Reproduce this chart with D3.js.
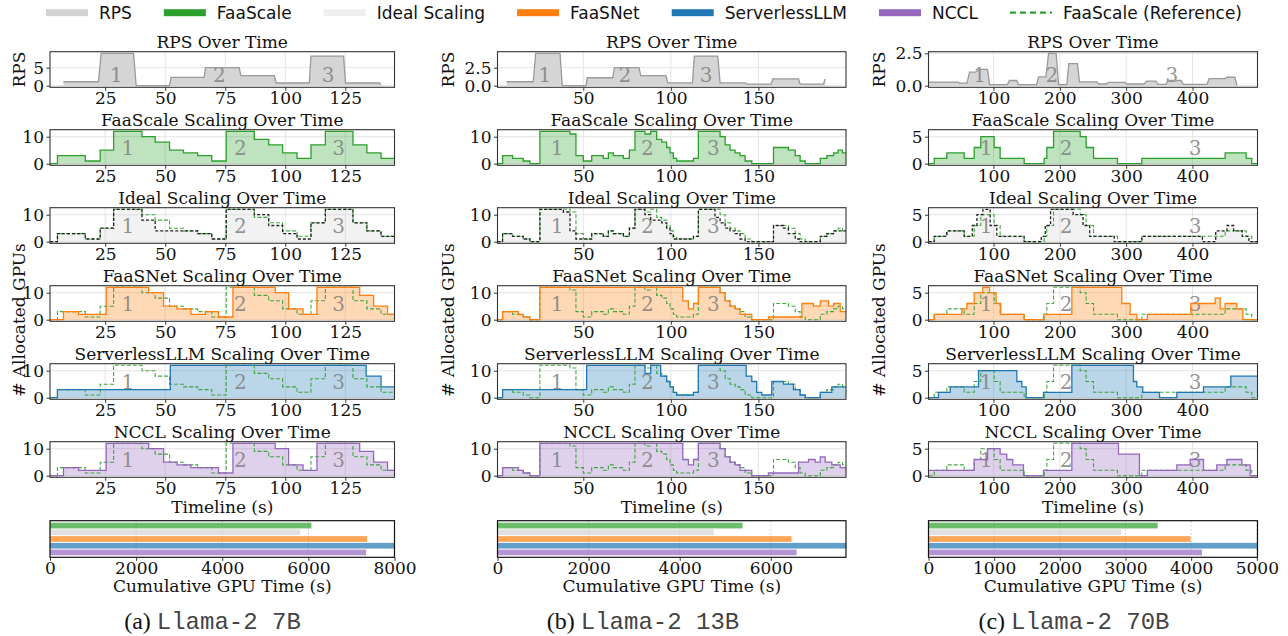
<!DOCTYPE html>
<html>
<head>
<meta charset="utf-8">
<script src="https://cdn.jsdelivr.net/npm/d3@7"></script>
<style>
  body { margin: 0; background: #fff; }
  svg text { font-family: "DejaVu Serif", serif; fill: #111; }
</style>
</head>
<body>
<svg id="chart" width="1288" height="636"></svg>
<script>
// ---- données ----
const legendNames = ["RPS", "FaaScale", "Ideal Scaling", "FaaSNet", "ServerlessLLM", "NCCL", "FaaScale (Reference)"];
const barNames = ["FaaScale", "Ideal Scaling", "FaaSNet", "ServerlessLLM", "NCCL"];
const panelTitles = ["RPS Over Time", "FaaScale Scaling Over Time", "Ideal Scaling Over Time",
                     "FaaSNet Scaling Over Time", "ServerlessLLM Scaling Over Time", "NCCL Scaling Over Time"];
const captionTags = ["(a) ", "(b) ", "(c) "];
const modelNames = ["Llama-2 7B", "Llama-2 13B", "Llama-2 70B"];
const burstLabels = ["1", "2", "3"];

// (a) Llama-2 7B : [temps (s), valeur]
const rpsA = [[7.6,1.1],[22.2,1.1],[23.3,9.0],[36.8,9.0],[37.9,0],[51.8,0],[52.4,2.3],[66.2,2.3],[66.8,5.0],[80.8,5.0],
  [81.5,2.8],[95.4,2.8],[96.2,0.75],[110,0.75],[110.7,8.2],[124.3,8.2],[125.1,0.75],[139.2,0.75],[139.9,0.3]];
const faascaleA = [[2,0],[5.1,3],[16.7,1],[22.9,5],[28.5,12],[40.3,10],[45.8,8],[51.8,5],[57.6,4],[63.5,3],[69.4,1],
  [75.4,12],[87.1,9],[93.1,7],[98.9,4],[104.9,2],[110.7,7],[116.7,12],[128.2,7],[134,4],[139.9,2],[145.5,2]];
const idealA = [[2,0],[5.1,3],[16.7,1],[22.9,5],[28.5,12],[40.3,8],[45.8,4],[63.5,3],[69.4,1],[75.4,12],[87.1,10],
  [93.1,6],[98.9,3],[104.9,1],[110.7,7],[116.7,12],[128.2,7],[134,4],[139.9,2],[145.5,2]];
const faasnetA = [[2,0],[7.6,3],[13.9,2],[25.4,12],[43.1,10],[49.3,5],[54.9,4],[60.7,2],[66.7,3],[72.2,1],[78.2,12],
  [95.8,10],[101.4,4],[107.4,2],[113.2,12],[131,9],[136.8,5],[142.6,2],[145.5,2]];
const serverlessA = [[2,0],[5.1,3],[52.1,12],[133.7,8],[139.9,4],[145.5,4]];
const ncclA = [[2,0],[7.6,3],[13.9,2],[25.4,12],[43.1,10],[49.3,5],[54.9,4],[60.7,3],[72.2,1],[78.2,12],[95.8,10],
  [101.4,4],[107.4,2],[113.2,12],[131,9],[136.8,5],[142.6,2],[145.5,2]];
const barA = [6070, 5810, 7365, 8000, 7340];

// (b) Llama-2 13B
const rpsB = [[6.2,0.55],[21.4,0.55],[22.8,4.5],[36.7,4.5],[38,0],[51.5,0],[52.3,1.1],[66.8,1.1],[67.7,2.5],[81.8,2.5],
  [82.8,1.4],[97.2,1.4],[98.2,0.38],[112.3,0.38],[113.4,4.1],[126.8,4.1],[128.1,0.38],[142.4,0.38],[143.3,0.22],
  [157.2,0.22],[158.2,0.94],[172.9,0.94],[173.8,0.22],[187.1,0.22],[188.1,0.94]];
const faascaleB = [[1,0],[3.9,3],[9.6,2],[15.7,1],[19.5,0],[25.2,12],[42.4,11],[45.8,3],[50,1],[54.8,3],[61.4,2],
  [64.3,4],[67.1,3],[72.9,2],[76.3,5],[79.5,12],[85.2,11],[88.5,12],[91.9,9],[94.8,8],[97.6,6],[99.5,4],[101.4,2],
  [103.3,1],[112.9,2],[115.7,12],[128.1,10],[131,7],[133.8,5],[136.7,4],[139.5,3],[142.4,1],[146.2,0],[158.6,6],
  [167.1,5],[171,3],[173.8,1],[176.7,0],[185.3,2],[189.1,3],[192.9,4],[195.5,5],[198,4],[200,4]];
const idealB = [[1,0],[3.9,3],[9.6,2],[15.7,1],[19.5,0],[25.2,12],[38.6,11],[42.4,4],[45.8,1],[54.8,3],[61.4,2],
  [64.3,4],[67.1,3],[72.9,2],[76.3,5],[79.5,12],[85.2,10],[88.5,8],[94.8,7],[97.6,5],[99.5,3],[101.4,1],[112.9,2],
  [115.7,12],[125.2,9],[128.1,7],[131,5],[133.8,4],[136.7,3],[139.5,1],[142.4,0],[158.6,6],[164.3,5],[167.1,3],
  [171,1],[173.8,0],[185.3,2],[189.1,3],[192.9,4],[196.7,4],[200,3]];
const faasnetB = [[1,0],[3.9,3],[12.9,2],[15.7,1],[19.5,0],[25.2,12],[106.8,7],[110,4],[112.9,6],[115.7,12],[128.1,10],
  [131,7],[133.8,5],[136.7,4],[139.5,2],[146.2,0],[155.7,1],[174.8,6],[181.4,5],[185.3,7],[190,5],[192.9,6],
  [196.7,3],[200,3]];
const serverlessB = [[1,0],[3.9,3],[51.9,12],[85.2,9],[88.5,12],[94.2,8],[97.6,6],[99.5,4],[101.4,2],[103.3,1],
  [112.9,2],[115.7,12],[143,8],[146.2,6],[149,2],[151.9,1],[157.6,6],[164.3,5],[170,3],[173.8,1],[176.7,0],
  [185.3,2],[191.9,4],[200,4]];
const ncclB = [[1,0],[3.9,3],[12.9,2],[15.7,1],[19.5,0],[25.2,12],[106.8,6],[110,4],[112.9,6],[115.7,12],[128.1,10],
  [131,7],[133.8,5],[136.7,4],[139.5,2],[146.2,0],[155.7,1],[172.9,5],[178.6,6],[182.4,5],[185.3,7],[188.1,5],
  [191.9,4],[196.7,3],[200,3]];
const barB = [5380, 4750, 6455, 7650, 6565];

// (c) Llama-2 70B
const rpsC = [[2,0.28],[47,0.28],[48.5,0.2],[60,0.2],[63.8,1.05],[73,1.05],[79,1.26],[91,1.26],[94,0.08],[121,0.08],
  [124,0.4],[135,0.4],[137.7,0.08],[165,0.08],[168,0.68],[179,0.68],[183,2.5],[194.5,2.5],[198,0.08],[210.5,0.08],
  [213.6,1.7],[226.6,1.7],[229.6,0.3],[255.8,0.3],[258.8,0.13],[270,0.13],[273,0.25],[298.5,0.25],[301,0.13],
  [327,0.13],[331,0.35],[345,0.35],[348,0.1],[360,0.1],[363,0.4],[383,0.4],[386,0.1],[422,0.1],[425,0.55],
  [449,0.55],[452,0.65],[464,0.65],[467,0]];
const faascaleC = [[2,0],[10.6,1],[29.6,2],[55.8,1],[70.9,3],[80.9,5],[101,3],[110,1],[146.2,0],[176.4,1],[180.4,3],
  [190.5,6],[230.7,5],[239.7,3],[250.8,1],[286.9,0],[323.6,1],[449.2,2],[480.9,1],[489.4,0],[498,0]];
const idealC = [[2,0],[10.6,1],[29.6,2],[55.8,1],[68,3],[75,5],[84,6],[95,3],[105,1],[146.2,0],[172,1],[178,3],
  [186,6],[220,5],[235,3],[245,1],[282,0],[323.6,1],[415,0],[435,2],[452,3],[462,2],[475,1],[485,0],[498,0]];
const faasnetC = [[2,0],[10.6,1],[52.3,2],[59.8,3],[70.9,5],[83.9,6],[94,5],[104,3],[111,1],[146.2,0],[175.4,1],
  [218.1,6],[293.5,3],[306,1],[316,0],[332,1],[397.5,3],[434.2,4],[441.7,2],[449.2,3],[466.8,2],[475.9,0],[498,0]];
const serverlessC = [[2,0],[17,1],[34.7,2],[77.4,5],[135.2,3],[142.7,2],[149.2,0],[175.4,1],[218.1,6],[311,3],
  [316,2],[325,1],[350.3,0],[376.4,1],[416.6,2],[457.8,4],[498,4]];
const ncclC = [[2,1],[70.9,3],[91,5],[110,4],[120,3],[129,2],[145.2,0],[175.4,1],[218.1,6],[288.4,4],[320,0],
  [332,1],[376.4,2],[396.5,3],[416.6,1],[436.7,2],[451.8,3],[474.4,2],[487,0],[498,0]];
const barC = [3490, 2935, 3990, 5010, 4165];

// graduations
const xTicksA = [25, 50, 75, 100, 125], xTicksB = [50, 100, 150], xTicksC = [100, 200, 300, 400];
const rpsTicksA = [0, 5], rpsTicksB = [0, 2.5], rpsTicksC = [0, 2.5];
const gpuTicksA = [0, 10], gpuTicksB = [0, 10], gpuTicksC = [0, 5];
const barTicksA = [0, 2000, 4000, 6000, 8000], barTicksB = [0, 2000, 4000, 6000], barTicksC = [0, 1000, 2000, 3000, 4000, 5000];

// positions des étiquettes 1/2/3 (en secondes)
const rpsLabelA = [29.6, 72.6, 117.8], gpuLabelA = [34.4, 81.3, 122.2];
const rpsLabelB = [28.1, 73.8, 120.1], gpuLabelB = [35.1, 86.6, 124.3];
const rpsLabelC = [78.9, 188, 368.8], gpuLabelC = [89, 209.5, 404];

// ---- mise en page ----
const COLORS = {
  rps: "#d3d3d3", faascale: "#2ca02c", ideal: "#d3d3d3", faasnet: "#ff7f0e", serverless: "#1f77b4", nccl: "#9467bd"
};
const colLeft = [50, 497.5, 928.5];
const colRight = [394.5, 846, 1257.5];
const yLabelX = [19, 448, 879];
const captionX = [212.5, 643, 1074];
const panelTop0 = 51.7, panelPitch = 78, panelH = 35.6;
const barTop = 520.7, barBottom = 557.3;

const columns = [
  { rps: rpsA, faascale: faascaleA, ideal: idealA, faasnet: faasnetA, serverless: serverlessA, nccl: ncclA, bars: barA,
    xTicks: xTicksA, rpsTicks: rpsTicksA, gpuTicks: gpuTicksA, barTicks: barTicksA,
    rpsLabels: rpsLabelA, gpuLabels: gpuLabelA, rpsFmt: d3.format("d") },
  { rps: rpsB, faascale: faascaleB, ideal: idealB, faasnet: faasnetB, serverless: serverlessB, nccl: ncclB, bars: barB,
    xTicks: xTicksB, rpsTicks: rpsTicksB, gpuTicks: gpuTicksB, barTicks: barTicksB,
    rpsLabels: rpsLabelB, gpuLabels: gpuLabelB, rpsFmt: d3.format(".1f") },
  { rps: rpsC, faascale: faascaleC, ideal: idealC, faasnet: faasnetC, serverless: serverlessC, nccl: ncclC, bars: barC,
    xTicks: xTicksC, rpsTicks: rpsTicksC, gpuTicks: gpuTicksC, barTicks: barTicksC,
    rpsLabels: rpsLabelC, gpuLabels: gpuLabelC, rpsFmt: d3.format(".1f") }
];

const svg = d3.select("#chart");
svg.append("rect").attr("width", 1288).attr("height", 636).attr("fill", "#fff");
const defs = svg.append("defs");

function styleAxis(g) {
  g.select(".domain").remove();
  g.selectAll(".tick line").attr("stroke", "#333").attr("stroke-width", 1);
  g.selectAll(".tick text").attr("font-size", "17px").attr("font-family", "DejaVu Serif").attr("fill", "#111");
}

let clipId = 0;

columns.forEach((col, ci) => {
  const x0 = colLeft[ci], x1 = colRight[ci];
  const gpuSeries = [col.faascale, col.ideal, col.faasnet, col.serverless, col.nccl];
  const x = d3.scaleLinear()
    .domain(d3.extent(gpuSeries.flat(), d => d[0]))
    .range([x0, x1]);
  const gpuMax = d3.max(gpuSeries.flat(), d => d[1]);
  const rpsMax = d3.max(col.rps, d => d[1]);

  const panels = [
    { data: col.rps, curve: d3.curveLinear, fill: COLORS.rps, fillOp: 0.95, stroke: "#9a9a9a", dash: null,
      max: rpsMax, ticks: col.rpsTicks, fmt: col.rpsFmt, labels: col.rpsLabels, labelFrac: 0.66, ref: false },
    { data: col.faascale, fill: COLORS.faascale, fillOp: 0.3, stroke: COLORS.faascale, dash: null, ref: false },
    { data: col.ideal, fill: COLORS.ideal, fillOp: 0.3, stroke: "#222", dash: "3,2", ref: true },
    { data: col.faasnet, fill: COLORS.faasnet, fillOp: 0.3, stroke: COLORS.faasnet, dash: null, ref: true },
    { data: col.serverless, fill: COLORS.serverless, fillOp: 0.3, stroke: COLORS.serverless, dash: null, ref: true },
    { data: col.nccl, fill: COLORS.nccl, fillOp: 0.3, stroke: COLORS.nccl, dash: null, ref: true }
  ];

  panels.forEach((p, pi) => {
    const top = panelTop0 + pi * panelPitch, bottom = top + panelH;
    const maxV = p.max !== undefined ? p.max : gpuMax;
    const y = d3.scaleLinear().domain([-0.05 * maxV, 1.05 * maxV]).range([bottom, top]);
    const curve = p.curve || d3.curveStepAfter;
    const g = svg.append("g");

    const cid = "clip" + (clipId++);
    defs.append("clipPath").attr("id", cid).append("rect")
      .attr("x", x0).attr("y", top).attr("width", x1 - x0).attr("height", panelH);

    // grille
    g.selectAll(".gx").data(col.xTicks).enter().append("line")
      .attr("x1", d => x(d)).attr("x2", d => x(d)).attr("y1", top).attr("y2", bottom)
      .attr("stroke", "#e5e5e5").attr("stroke-width", 1);
    const yTicks = p.ticks || col.gpuTicks;
    g.selectAll(".gy").data(yTicks).enter().append("line")
      .attr("x1", x0).attr("x2", x1).attr("y1", d => y(d)).attr("y2", d => y(d))
      .attr("stroke", "#e5e5e5").attr("stroke-width", 1);

    const plot = g.append("g").attr("clip-path", `url(#${cid})`);
    const area = d3.area().curve(curve).x(d => x(d[0])).y0(y(0)).y1(d => y(d[1]));
    const line = d3.line().curve(curve).x(d => x(d[0])).y(d => y(d[1]));

    plot.append("path").datum(p.data).attr("d", area)
      .attr("fill", p.fill).attr("fill-opacity", p.fillOp);

    // labels 1/2/3
    const lab = p.labels || col.gpuLabels;
    const frac = p.labelFrac || 0.5;
    plot.selectAll(".lab").data(lab).enter().append("text")
      .attr("x", d => x(d)).attr("y", top + panelH * frac + 7)
      .attr("text-anchor", "middle").attr("font-size", "20px")
      .style("fill", "#808080").attr("fill-opacity", 0.85)
      .text((d, i) => burstLabels[i]);

    if (p.ref) {
      plot.append("path").datum(col.faascale).attr("d", line)
        .attr("fill", "none").attr("stroke", COLORS.faascale).attr("stroke-width", 1.1)
        .attr("stroke-dasharray", "4,2").attr("stroke-opacity", 0.9);
    }
    plot.append("path").datum(p.data).attr("d", line)
      .attr("fill", "none").attr("stroke", p.stroke).attr("stroke-width", 1.3)
      .attr("stroke-dasharray", p.dash);

    // cadre
    g.append("rect").attr("x", x0).attr("y", top).attr("width", x1 - x0).attr("height", panelH)
      .attr("fill", "none").attr("stroke", "#333").attr("stroke-width", 1.1);

    // axes
    g.append("g").attr("transform", `translate(0,${bottom})`)
      .call(d3.axisBottom(x).tickValues(col.xTicks).tickSize(3.5).tickPadding(1.5).tickFormat(d3.format("d")))
      .call(styleAxis);
    g.append("g").attr("transform", `translate(${x0},0)`)
      .call(d3.axisLeft(y).tickValues(yTicks).tickSize(3.5).tickPadding(2.5).tickFormat(p.fmt || d3.format("d")))
      .call(styleAxis);

    // titre
    g.append("text").attr("x", (x0 + x1) / 2).attr("y", top - 4)
      .attr("text-anchor", "middle").attr("font-size", "17px").text(panelTitles[pi]);
  });

  // titres d'axes Y
  svg.append("text")
    .attr("transform", `translate(${yLabelX[ci] + 6},${panelTop0 + panelH / 2}) rotate(-90)`)
    .attr("text-anchor", "middle").attr("font-size", "17px").text("RPS");
  svg.append("text")
    .attr("transform", `translate(${yLabelX[ci] + 6},320) rotate(-90)`)
    .attr("text-anchor", "middle").attr("font-size", "17px").text("# Allocated GPUs");

  svg.append("text").attr("x", (x0 + x1) / 2).attr("y", 513)
    .attr("text-anchor", "middle").attr("font-size", "17px").text("Timeline (s)");

  // barres GPU cumulées
  const bx = d3.scaleLinear().domain([0, d3.max(col.bars)]).range([x0, x1]);
  const by = d3.scaleBand().domain(barNames).range([barTop, barBottom]).paddingInner(0.15).paddingOuter(0.3);
  const barColors = [COLORS.faascale, COLORS.rps, COLORS.faasnet, COLORS.serverless, COLORS.nccl];
  const bg = svg.append("g");
  bg.selectAll(".bgrid").data(col.barTicks).enter().append("line")
    .attr("x1", d => bx(d)).attr("x2", d => bx(d)).attr("y1", barTop).attr("y2", barBottom)
    .attr("stroke", "#d0d0d0").attr("stroke-dasharray", "2,2");
  bg.selectAll(".bar").data(col.bars).enter().append("rect")
    .attr("x", bx(0)).attr("y", (d, i) => by(barNames[i]))
    .attr("width", d => bx(d) - bx(0)).attr("height", by.bandwidth())
    .attr("fill", (d, i) => barColors[i]).attr("fill-opacity", 0.7);
  bg.append("rect").attr("x", x0).attr("y", barTop).attr("width", x1 - x0).attr("height", barBottom - barTop)
    .attr("fill", "none").attr("stroke", "#111").attr("stroke-width", 1.2);
  bg.append("g").attr("transform", `translate(0,${barBottom})`)
    .call(d3.axisBottom(bx).tickValues(col.barTicks).tickSize(3.5).tickPadding(1.5).tickFormat(d3.format("d")))
    .call(styleAxis);
  svg.append("text").attr("x", (x0 + x1) / 2).attr("y", 592)
    .attr("text-anchor", "middle").attr("font-size", "17px").text("Cumulative GPU Time (s)");

  // légende de sous-figure
  const cap = svg.append("text").attr("x", captionX[ci]).attr("y", 629).attr("text-anchor", "middle");
  cap.append("tspan").attr("font-family", "Liberation Serif").attr("font-size", "24px").text(captionTags[ci]);
  cap.append("tspan").attr("font-family", "Liberation Mono").attr("font-size", "24px").style("fill", "#444").text(modelNames[ci]);
});

// ---- légende du haut ----
const legendColors = [COLORS.rps, COLORS.faascale, "#efefef", COLORS.faasnet, COLORS.serverless, COLORS.nccl, COLORS.faascale];
const legend = svg.append("g");
let lx = 46;
legendNames.forEach((name, i) => {
  if (i === legendNames.length - 1) {
    legend.append("line").attr("x1", lx).attr("x2", lx + 42).attr("y1", 12.7).attr("y2", 12.7)
      .attr("stroke", legendColors[i]).attr("stroke-width", 2.2).attr("stroke-dasharray", "6,4");
  } else {
    legend.append("rect").attr("x", lx).attr("y", 9.2).attr("width", 42).attr("height", 7)
      .attr("fill", legendColors[i]);
  }
  const t = legend.append("text").attr("x", lx + 53).attr("y", 19)
    .attr("font-family", "DejaVu Sans").style("font-family", "DejaVu Sans").attr("font-size", "17px").text(name);
  lx += 53 + t.node().getComputedTextLength() + 32;
});
</script>
</body>
</html>
